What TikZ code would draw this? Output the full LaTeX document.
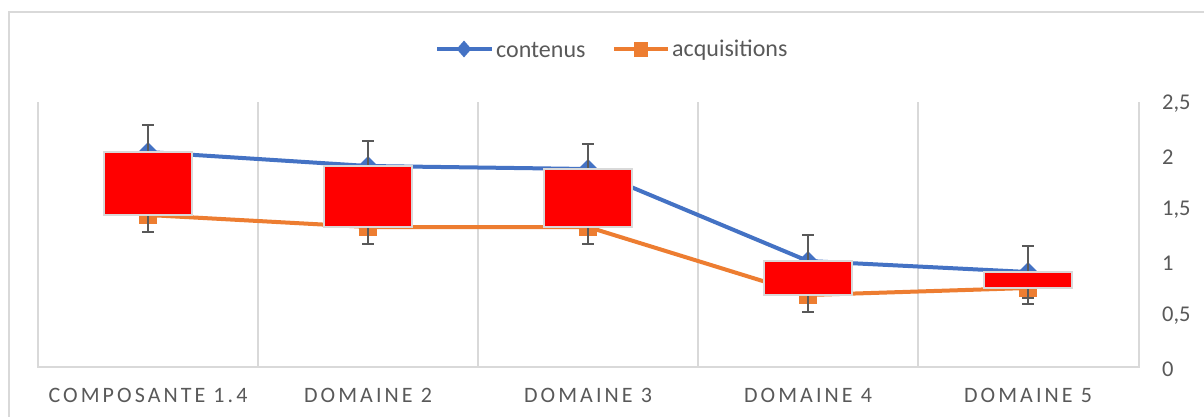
\documentclass[tikz,border=0pt]{standalone}
\usepackage{fontspec}
\setmainfont{Carlito}
\newfontfamily\catfont[LetterSpace=14]{Carlito}
\usetikzlibrary{shapes.geometric}
\definecolor{cblue}{HTML}{4472C4}
\definecolor{corange}{HTML}{ED7D31}
\definecolor{cgrid}{HTML}{D9D9D9}
\definecolor{ctext}{HTML}{595959}
\definecolor{cbar}{HTML}{FF0000}
\tikzset{
  gridline/.style={cgrid, line width=1.3pt},
  serblue/.style={cblue, line width=4pt, line join=round},
  serorange/.style={corange, line width=4pt, line join=round},
  dmark/.style={diamond, fill=cblue, inner sep=0pt, minimum width=20pt, minimum height=20pt},
  smark/.style={rectangle, fill=corange, inner sep=0pt, minimum width=18pt, minimum height=18pt},
  ldmark/.style={diamond, fill=cblue, inner sep=0pt, minimum width=15pt, minimum height=17pt},
  lsmark/.style={rectangle, fill=corange, inner sep=0pt, minimum width=14pt, minimum height=15pt},
  errbar/.style={ctext, line width=1.6pt},
  updown/.style={fill=cbar, draw=cgrid, line width=1.5pt},
  cattext/.style={text=ctext, font=\catfont\fontsize{22}{26}\selectfont, inner sep=0pt},
  valtext/.style={text=ctext, font=\fontsize{22.5}{27}\selectfont, inner sep=0pt, anchor=west},
  legtext/.style={text=ctext, font=\fontsize{24}{28}\selectfont, inner sep=0pt, anchor=west},
}
\begin{document}
\begin{tikzpicture}[x=1pt,y=-1pt]
\useasboundingbox (0,0) rectangle (1204,416);
\fill[white] (0,0) rectangle (1204,416);
% outer chart border
\draw[gridline] (9,420) -- (9,12) -- (1210,12);
% plot area
\draw[gridline] (38,102) -- (38,367) -- (1139,367) -- (1139,102);
\foreach \gx in {258,478,698,918} \draw[gridline] (\gx,102) -- (\gx,367);
% axis values
\foreach \v/\lab in {0/0,0.5/{0,5},1/1,1.5/{1,5},2/2,2.5/{2,5}}
  \node[valtext] at (1162,{367-106*\v+2}) {\lab};
% category labels
\node[cattext] (c1) at (148,395) {COMPOSANTE 1.4};
\node[cattext] (c2) at (368,395) {DOMAINE 2};
\node[cattext] (c3) at (588,395) {DOMAINE 3};
\node[cattext] (c4) at (808,395) {DOMAINE 4};
\node[cattext] (c5) at (1028,395) {DOMAINE 5};
% data points
\coordinate (b1) at (148,152);
\coordinate (b2) at (368,166);
\coordinate (b3) at (588,169);
\coordinate (b4) at (808,261);
\coordinate (b5) at (1028,272);
\coordinate (o1) at (148,215);
\coordinate (o2) at (368,227);
\coordinate (o3) at (588,227);
\coordinate (o4) at (808,295);
\coordinate (o5) at (1028,288);
% series lines
\draw[serblue] (b1) -- (b2) -- (b3) -- (b4) -- (b5);
\draw[serorange] (o1) -- (o2) -- (o3) -- (o4) -- (o5);
% markers
\foreach \i in {1,...,5} {
  \node[dmark] (bm\i) at (b\i) {};
  \node[smark] (om\i) at (o\i) {};
}
% error bars
\foreach \i/\e in {1/27,2/25,3/25,4/26,5/26} {
  \draw[errbar] ([yshift=\e pt]b\i) -- ([yshift=-\e pt]b\i);
  \draw[errbar] ([xshift=-6pt,yshift=\e pt]b\i) -- ([xshift=6pt,yshift=\e pt]b\i);
  \draw[errbar] ([xshift=-6pt,yshift=-\e pt]b\i) -- ([xshift=6pt,yshift=-\e pt]b\i);
}
\foreach \i/\e in {1/17,2/17,3/17,4/17,5/16} {
  \draw[errbar] ([yshift=\e pt]o\i) -- ([yshift=-\e pt]o\i);
  \draw[errbar] ([xshift=-6pt,yshift=\e pt]o\i) -- ([xshift=6pt,yshift=\e pt]o\i);
  \draw[errbar] ([xshift=-6pt,yshift=-\e pt]o\i) -- ([xshift=6pt,yshift=-\e pt]o\i);
}
% up/down bars
\foreach \i in {1,...,5} {
  \draw[updown] ([xshift=-44pt]b\i) rectangle ([xshift=44pt]o\i);
}
% legend
\coordinate (lb1) at (437,49);
\coordinate (lb2) at (492,49);
\draw[serblue] (lb1) -- (lb2);
\node[ldmark] (lbm) at (464,49) {};
\node[legtext] (lbt) at (496,50) {contenus};
\coordinate (lo1) at (614,49);
\coordinate (lo2) at (668,49);
\draw[serorange] (lo1) -- (lo2);
\node[lsmark] (lom) at (641,49) {};
\node[legtext] (lot) at (672,50) {acquisitions};
\end{tikzpicture}
\end{document}
